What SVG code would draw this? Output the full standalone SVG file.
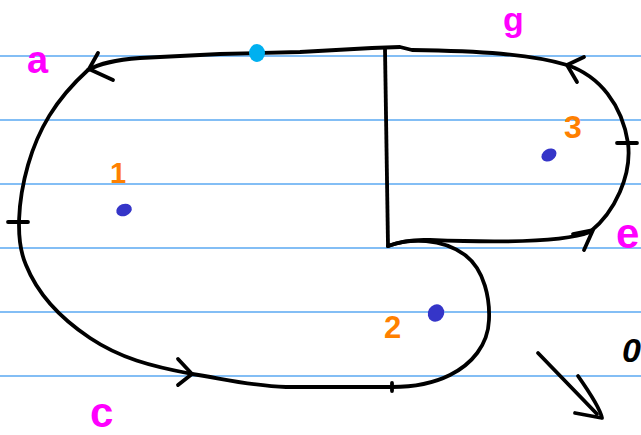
<svg xmlns="http://www.w3.org/2000/svg" width="641" height="435" viewBox="0 0 641 435">
<style>
.rule{stroke:#5aa9f2;stroke-width:1.5}
.ink{fill:none;stroke:#000;stroke-width:3.8;stroke-linecap:round;stroke-linejoin:round}
.lbl{font-family:"Liberation Sans",Arial,sans-serif;fill:#ff00ff;font-weight:bold}
.num{font-family:"Liberation Sans",Arial,sans-serif;fill:#ff8000;font-weight:bold}
.dot{fill:#3535c8}
</style>
<rect width="641" height="435" fill="#fff"/>
<g id="paper">
<line class="rule" x1="0" y1="56" x2="641" y2="56"/>
<line class="rule" x1="0" y1="120" x2="641" y2="120"/>
<line class="rule" x1="0" y1="184" x2="641" y2="184"/>
<line class="rule" x1="0" y1="248" x2="641" y2="248"/>
<line class="rule" x1="0" y1="312" x2="641" y2="312"/>
<line class="rule" x1="0" y1="376" x2="641" y2="376"/>
</g>
<g id="connectors">
<path class="ink" d="M88 70 C100 63 115 60 140 58 L220 54 L300 52 L372 48 L400 47 L412 50 C480 51 530 54 567 65 C600 76 622 105 628 143 C632 175 615 212 590 232"/>
<path class="ink" d="M590 232 C560 244 480 242 430 240 C410 239 396 243 388 246"/>
<path class="ink" d="M385 49 L388 246"/>
<path class="ink" d="M388 246 C410 238 442 238 465 255 C485 270 490 300 489 320 C488 345 472 364 450 375 C430 385 410 387 392 387 L286 387 C250 386 220 378 192 374"/>
<path class="ink" d="M192 374 C150 366 120 358 90 338 C60 318 38 295 26 265 C15 240 18 200 28 165 C38 130 55 100 88 70"/>
<path class="ink" d="M98 53 L89 69 L113 80"/>
<path class="ink" d="M584 57 L567 65 L577 82"/>
<path class="ink" d="M573 234 L593 230 L584 250"/>
<path class="ink" d="M178 359 L192 374 L178 385"/>
<path class="ink" d="M8 222 L28 222"/>
<path class="ink" d="M617 143 L637 143"/>
<path class="ink" d="M392 383 L392 391"/>
<path class="ink" d="M538 353 L597 414"/>
<path class="ink" d="M578 376 C590 393 600 408 602 418 L575 413"/>
</g>
<g id="region1">
<ellipse class="dot" cx="124" cy="210" rx="8" ry="6" transform="rotate(-20 124 210)"/>
<text class="num" x="110" y="183" font-size="29">1</text>
</g>
<g id="region2">
<ellipse class="dot" cx="436" cy="313" rx="8" ry="9" transform="rotate(30 436 313)"/>
<text class="num" x="384" y="338" font-size="31">2</text>
</g>
<g id="region3">
<ellipse class="dot" cx="549" cy="155" rx="8" ry="6" transform="rotate(-30 549 155)"/>
<text class="num" x="564" y="138" font-size="32">3</text>
</g>
<g id="point">
<ellipse cx="257" cy="53" rx="8" ry="9" fill="#00b0f0"/>
</g>
<g id="labels">
<text class="lbl" x="27" y="73" font-size="38">a</text>
<text class="lbl" x="503" y="31" font-size="34">g</text>
<text class="lbl" x="616" y="248" font-size="42">e</text>
<text class="lbl" x="90" y="427" font-size="42">c</text>
<text x="622" y="362" font-size="34" font-style="italic" font-weight="bold" font-family="Liberation Sans, Arial, sans-serif" fill="#000">0</text>
</g>
</svg>
